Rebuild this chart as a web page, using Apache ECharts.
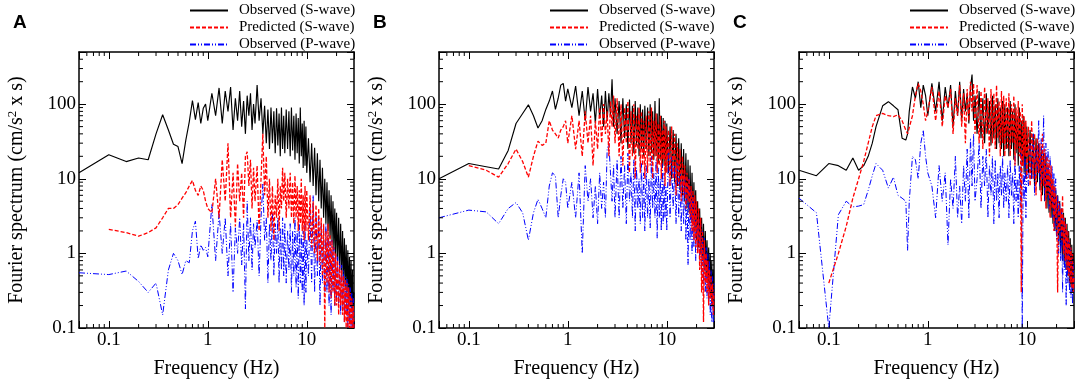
<!DOCTYPE html>
<html>
<head>
<meta charset="utf-8">
<title>fourier spectra</title>
<script src="https://cdn.jsdelivr.net/npm/echarts@6.0.0/dist/echarts.min.js"></script>
<style>body{margin:0;background:#fff;}</style>
</head>
<body>
<div id="box" style="width:1079px;height:382px;"></div>
<script>
var mCharts = echarts.init(document.querySelector('#box'))

// frequency grids (Hz)
var freqLowAB = [0.05,0.1,0.15,0.2,0.25,0.3,0.35,0.4,0.45,0.5,0.55,0.6,0.65,0.7,0.75,0.8,0.85,0.9,0.95]
var freqLowC = [0.05,0.075,0.1,0.125,0.15,0.175,0.2,0.225,0.25,0.275,0.3,0.35,0.4,0.45,0.5,0.55,0.6,0.625,0.65,0.7,0.75,0.8,0.85,0.9,0.95]
var freqHigh = [
  1.0,1.1,1.2,1.3,1.4,1.5,1.6,1.7,1.8,1.9,2.0,2.1,2.2,2.3,2.4,2.5,2.6,2.7,2.8,2.9,3.0,
  3.15,3.3,3.45,3.6,3.75,3.9,4.05,4.2,4.35,4.5,4.65,4.8,4.95,5.1,5.25,5.4,5.55,5.7,5.85,6.0,
  6.2,6.4,6.6,6.8,7.0,7.2,7.4,7.6,7.8,8.0,8.2,8.4,8.6,8.8,9.0,9.2,9.4,9.6,9.8,10.0,
  10.4,10.8,11.2,11.6,12.0,12.4,12.8,13.2,13.6,14.0,14.4,14.8,15.2,15.6,16.0,16.4,16.8,17.2,17.6,18.0,18.4,18.8,19.2,19.6,20.0,
  20.5,21.0,21.5,22.0,22.5,23.0,23.5,24.0,24.5,25.0,25.5,26.0,26.5,27.0,27.5,28.0,28.5,29.0,29.5,30.0
]
var freqAB = freqLowAB.concat(freqHigh)
var freqC = freqLowC.concat(freqHigh)

// panel A (cm/s^2 x s)
var obsSA = [
  12,21,17,19,18,40,72,45,29,27,16,33,58,112,62,105,55,88,100,
  60,140,70,165,55,150,80,170,45,120,60,150,50,110,40,130,70,140,45,100,55,
  180,60,120,40,95,30,85,25,90,30,80,22,88,28,75,20,90,25,70,22,
  85,25,80,20,90,24,70,18,75,22,65,16,90,20,55,14,60,15,50,12,
  35,9,30,8,26,6,22,5,18,4,14,3,10,2.5,9,2,7,1.6,6,1.4,5,1.1,4,0.9,3.5,
  0.8,3,0.6,2.5,0.5,2,0.4,1.6,0.35,1.3,0.3,1.1,0.25,0.9,0.2,0.8,0.18,0.6,0.15,0.3
]
var predSA = [
  null,2.1,1.9,1.7,1.9,2.2,3,4,4,4.5,5.5,6.5,8,9.5,7,6,8,7,5,
  4,3.5,10,3,18,5,30,3,12,2.3,16,5,12,3,20,23,8,18,4,14,5,
  15,2,10,40,6,20,3,10,2,8,1.5,6,3,10,2,8,4,14,5,12,
  3,10,4,12,3,9,2.5,11,3,8,2,7,2.5,10,2,6,1.5,8,2,7,
  1.5,6,1.2,5,1,4.5,0.8,4,0.7,3,0.5,2.5,0.1,2,0.4,2.5,0.3,1.8,0.25,1.5,0.3,1.2,0.2,1,0.2,
  0.8,0.15,0.7,0.2,0.6,0.15,0.5,0.12,0.45,0.1,0.4,0.1,0.35,0.1,0.3,0.1,0.25,0.1,0.2,0.1
]
var obsPA = [
  0.55,0.52,0.58,0.42,0.3,0.4,0.15,0.6,1.0,0.8,0.52,0.8,0.75,2.0,2.7,0.85,1.3,1.1,1.2,
  0.9,4.5,0.8,3.5,1.0,3.0,0.5,2.5,0.3,2.2,1.0,3.0,0.7,2.5,0.18,5.0,0.8,3.0,0.6,2.5,1.2,
  2.8,0.5,3.0,8.5,1.5,3.0,0.4,2.5,0.8,3.5,0.5,2.5,1.0,3.0,0.4,2.2,0.6,3.0,0.5,2.5,
  0.4,2.0,0.6,2.5,0.3,2.0,0.5,3.0,0.35,2.0,0.25,2.5,0.4,1.8,0.3,2.0,0.2,2.5,0.3,1.5,
  0.5,4,0.4,6,0.3,3.5,0.5,3,0.2,2.5,0.4,2,0.3,2.5,0.3,1.8,0.2,1.5,0.15,1.5,0.3,1.2,0.2,1,0.25,
  0.9,0.2,0.8,0.15,0.7,0.2,0.6,0.12,0.5,0.15,0.45,0.1,0.4,0.12,0.35,0.1,0.3,0.1,0.25,0.1
]

// panel B
var obsSB = [
  10,16,14.5,13.5,24,55,75,98,70,48,60,85,110,150,85,120,180,190,110,
  160,90,175,70,150,60,170,80,140,55,160,65,130,50,150,60,140,70,215,50,120,
  40,110,30,120,35,100,25,115,30,95,22,110,28,90,20,100,25,85,20,95,
  25,90,20,100,22,80,18,110,20,75,16,120,18,70,14,65,15,60,12,55,
  12,50,10,45,9,40,8,35,7,30,6,25,5,22,4,18,3.5,15,3,12,2.5,9,2,7,1.5,
  5,1.2,4,1,3,0.8,2.5,0.6,2,0.5,1.5,0.4,1.2,0.3,1,0.25,0.8,0.2,0.6,0.15
]
var predSB = [
  null,15,13,10.5,16,25,17,10.5,20,32,28,30,60,45,40,35,45,50,60,
  30,70,25,60,20,80,30,70,15,60,25,90,30,100,40,80,20,110,50,130,30,
  120,20,100,15,90,30,110,12,80,20,100,10,70,25,90,12,80,15,60,10,
  70,12,80,15,90,10,60,20,75,12,55,15,70,10,45,18,60,8,50,12,
  45,8,50,10,40,6,30,8,25,5,20,6,15,4,12,5,10,3,8,2,7,1.5,6,1.2,5,
  1,4,0.6,3,0.3,2,0.12,1.5,0.4,1,0.3,0.8,0.2,0.6,0.25,0.5,0.2,0.4,0.15,0.3
]
var obsPB = [
  3.0,3.8,3.6,2.5,4.0,4.8,3.5,1.5,3.5,5.3,4.0,3.0,8.0,12,11,3.0,6.0,10,9.0,
  4,9,3,12,1.0,15,5,10,3,8,2.5,12,4,9,3,25,30,12,5,15,3,
  18,3,20,4,15,2.5,22,5,12,3,18,2,14,4,10,2.5,16,3,12,2,
  15,3,10,2.2,20,4,12,3,18,1.6,14,3,10,2,16,2.5,12,3,8,2,
  25,3,20,4,15,2.5,18,3,12,2,10,2.5,12,1.5,8,0.7,10,1.5,7,1,6,1.2,5,0.8,4,
  1,3,0.8,2.5,0.5,2,0.4,1.6,0.3,1.2,0.25,1,0.2,0.8,0.15,0.6,0.12,0.5,0.12,0.4
]

// panel C
var obsSC = [
  13,11,16,15,13,19,13,15,20,30,50,95,108,95,84,35,33,40,80,170,120,200,90,180,130,
  70,190,80,200,60,170,90,180,50,150,70,200,60,160,80,140,55,170,250,60,130,
  40,150,35,120,30,140,40,110,28,130,35,100,25,120,30,90,25,110,20,100,
  25,90,20,110,25,80,18,100,22,70,15,90,20,60,15,70,12,60,10,50,
  12,45,10,40,8,35,9,30,7,25,6,22,5,20,4,15,3.5,12,3,10,2.5,8,2,7,1.7,
  6,1.3,5,1,4,0.8,3.5,0.7,3,0.6,2.5,0.5,2,0.4,1.6,0.35,1.3,0.3,1,0.6
]
var predSC = [
  null,null,0.4,1.0,2.3,5.5,10,17,30,50,70,75,70,68,72,60,45,40,42,70,130,190,150,100,60,
  80,170,60,150,50,130,90,160,40,120,70,180,50,140,30,160,60,200,80,190,40,
  180,30,150,25,170,40,120,20,160,30,140,25,180,35,110,20,150,30,130,20,
  120,25,140,20,100,30,130,15,90,25,110,20,80,0.3,100,15,70,20,60,10,
  50,8,60,10,40,6,35,12,30,5,40,8,25,4,20,6,18,3,15,4,10,2,8,3,6,
  0.3,5,2,4,1.5,6,1,3,0.8,2.5,0.6,2,0.5,1.5,0.4,1.2,0.35,1,0.3,0.5
]
var obsPC = [
  5.5,3.5,0.1,3.3,5.0,4.2,4.3,4.5,7,11,16,13,7.5,10.5,6,5.5,5,1.1,5,20,18,10,30,45,20,
  12,8,3,15,5,12,1.3,10,4,20,3,8,2.5,15,5,25,3,35,8,40,5,
  10,30,4,20,8,25,3,15,6,20,2.5,18,5,12,3,15,6,20,4,12,
  5,15,3,18,6,12,2.5,20,5,10,3,15,4,25,0.1,12,5,20,3,15,
  8,30,10,40,6,25,12,60,8,35,10,70,5,30,8,25,4,20,5,15,3,12,2,10,1.5,
  6,1,5,0.8,4,0.3,3,0.6,2.5,0.2,2,0.4,1.5,0.3,1.2,0.25,1,0.2,0.8,0.3
]

var seriesNames = ['Observed (S-wave)', 'Predicted (S-wave)', 'Observed (P-wave)']
var panelLetters = ['A', 'B', 'C']
// minor tick positions on the log axes
var minorX = [0.06,0.07,0.08,0.09,0.2,0.3,0.4,0.5,0.6,0.7,0.8,0.9,2,3,4,5,6,7,8,9,20]
var minorY = [0.2,0.3,0.4,0.5,0.6,0.7,0.8,0.9,2,3,4,5,6,7,8,9,20,30,40,50,60,70,80,90,200,300,400]

var panels = [
  { freq: freqAB, obsS: obsSA, predS: predSA, obsP: obsPA },
  { freq: freqAB, obsS: obsSB, predS: predSB, obsP: obsPB },
  { freq: freqC, obsS: obsSC, predS: predSC, obsP: obsPC }
]

var serif = 'Liberation Serif'

function pairs(freq, vals) {
  var out = []
  for (var i = 0; i < freq.length; i++) {
    if (vals[i] != null) out.push([freq[i], vals[i]])
  }
  return out
}

function decadeLabel(v) {
  var e = Math.log10(v)
  if (Math.abs(e - Math.round(e)) > 1e-6) return ''
  e = Math.round(e)
  return e < 0 ? Math.pow(10, e).toFixed(-e) : String(Math.pow(10, e))
}

function xMinorTicks(params, api) {
  var cs = params.coordSys
  var x = api.coord([api.value(0), 1])[0]
  var st = { stroke: '#000', lineWidth: 1 }
  return { type: 'group', children: [
    { type: 'line', shape: { x1: x, y1: cs.y + cs.height, x2: x, y2: cs.y + cs.height - 4 }, style: st },
    { type: 'line', shape: { x1: x, y1: cs.y, x2: x, y2: cs.y + 4 }, style: st }
  ] }
}

function yMinorTicks(params, api) {
  var cs = params.coordSys
  var y = api.coord([1, api.value(1)])[1]
  var st = { stroke: '#000', lineWidth: 1 }
  return { type: 'group', children: [
    { type: 'line', shape: { x1: cs.x, y1: y, x2: cs.x + 4, y2: y }, style: st },
    { type: 'line', shape: { x1: cs.x + cs.width, y1: y, x2: cs.x + cs.width - 4, y2: y }, style: st }
  ] }
}

var grid = [], xAxis = [], yAxis = [], series = [], legend = [], title = []

panels.forEach(function (p, i) {
  var left = 79 + i * 360
  grid.push({ left: left, top: 52, width: 275, height: 276, outerBoundsMode: 'none' })

  var axisLine = { show: true, onZero: false, lineStyle: { color: '#000', width: 1.5 } }
  var tick = { show: true, inside: true, length: 7, lineStyle: { color: '#000', width: 1 } }

  xAxis.push({
    type: 'log', gridIndex: i, min: 0.05, max: 30,
    axisLine: axisLine, axisTick: tick, splitLine: { show: false },
    axisLabel: { formatter: decadeLabel, margin: 3, fontFamily: serif, fontSize: 19, color: '#000' },
    name: 'Frequency (Hz)', nameLocation: 'middle', nameGap: 31,
    nameTextStyle: { fontFamily: serif, fontSize: 20, color: '#000' }
  })
  xAxis.push({
    type: 'log', gridIndex: i, min: 0.05, max: 30, position: 'top',
    axisLine: axisLine, axisTick: tick, splitLine: { show: false },
    axisLabel: { show: false }
  })
  yAxis.push({
    type: 'log', gridIndex: i, min: 0.1, max: 500,
    axisLine: axisLine, axisTick: tick, splitLine: { show: false },
    axisLabel: { formatter: decadeLabel, margin: 3, fontFamily: serif, fontSize: 19, color: '#000' },
    name: 'Fourier spectrum (cm/s{sup|2} x s)', nameLocation: 'middle', nameGap: 51,
    nameTextStyle: {
      fontFamily: serif, fontSize: 20, color: '#000',
      rich: { sup: { fontFamily: serif, fontSize: 13, color: '#000', padding: [0, 0, 9, 0] } }
    }
  })
  yAxis.push({
    type: 'log', gridIndex: i, min: 0.1, max: 500, position: 'right',
    axisLine: axisLine, axisTick: tick, splitLine: { show: false },
    axisLabel: { show: false }
  })

  var xi = i * 2, yi = i * 2
  series.push({
    name: seriesNames[0], type: 'line', xAxisIndex: xi, yAxisIndex: yi,
    data: pairs(p.freq, p.obsS), symbol: 'none', z: 2,
    lineStyle: { color: '#000', width: 1.15 }, itemStyle: { color: '#000' }
  })
  series.push({
    name: seriesNames[1], type: 'line', xAxisIndex: xi, yAxisIndex: yi,
    data: pairs(p.freq, p.predS), symbol: 'none', z: 4,
    lineStyle: { color: '#ff0000', width: 1.3, type: [4, 2] }, itemStyle: { color: '#ff0000' }
  })
  series.push({
    name: seriesNames[2], type: 'line', xAxisIndex: xi, yAxisIndex: yi,
    data: pairs(p.freq, p.obsP), symbol: 'none', z: 3,
    lineStyle: { color: '#0000ff', width: 1, type: [6, 2, 1, 2, 1, 2] }, itemStyle: { color: '#0000ff' }
  })
  series.push({
    type: 'custom', xAxisIndex: xi, yAxisIndex: yi, silent: true, z: 5,
    data: minorX.map(function (v) { return [v, 1] }), renderItem: xMinorTicks
  })
  series.push({
    type: 'custom', xAxisIndex: xi, yAxisIndex: yi, silent: true, z: 5,
    data: minorY.map(function (v) { return [1, v] }), renderItem: yMinorTicks
  })

  legend.push({
    orient: 'vertical', left: left + 110, top: 3, padding: 0,
    itemWidth: 38, itemHeight: 14, itemGap: 2, data: seriesNames,
    itemStyle: { opacity: 0 },
    textStyle: { fontFamily: serif, fontSize: 15, color: '#000', padding: [0, 0, 0, 6] }
  })
  title.push({
    text: panelLetters[i], left: 13 + i * 360, top: 13, padding: 0,
    textStyle: { fontFamily: 'Liberation Sans', fontWeight: 'bold', fontSize: 19, color: '#000' }
  })
})

var option = {
  animation: false,
  backgroundColor: '#fff',
  title: title,
  legend: legend,
  grid: grid,
  xAxis: xAxis,
  yAxis: yAxis,
  series: series
}
mCharts.setOption(option)
</script>
</body>
</html>
